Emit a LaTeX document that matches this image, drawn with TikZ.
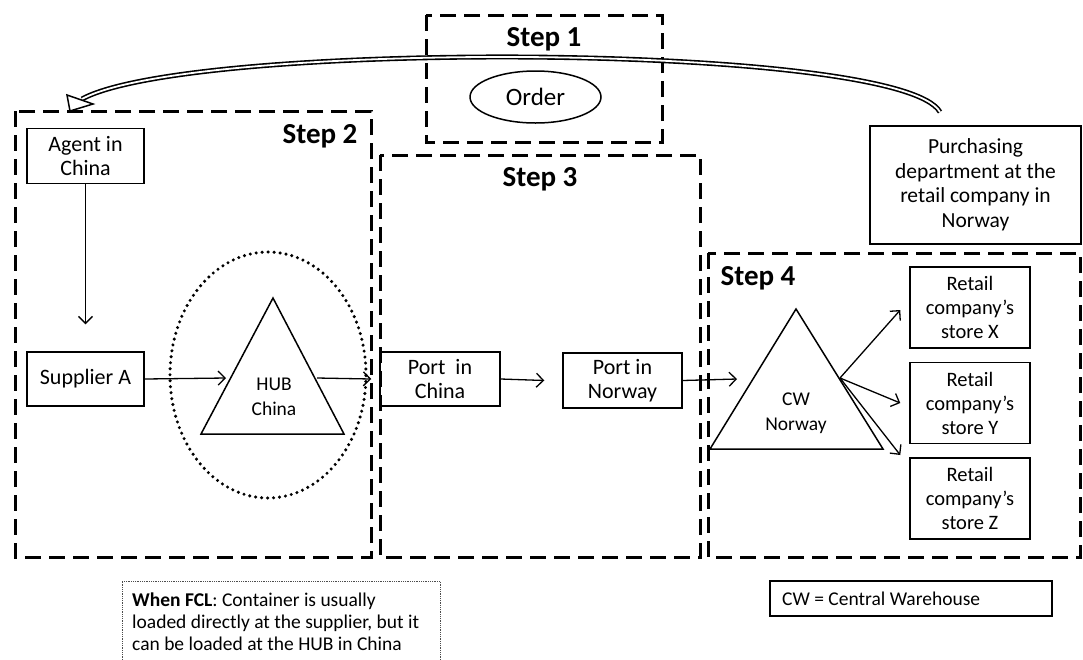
\documentclass[tikz,border=0pt]{standalone}
\usepackage{fontspec}
\setmainfont{Carlito}
\usetikzlibrary{arrows.meta,shapes.geometric}
\begin{document}
\begin{tikzpicture}[x=1pt,y=-1pt,
  stepframe/.style={draw, line width=3pt, dash pattern=on 16pt off 8pt},
  steplabel/.style={font=\fontsize{29}{32}\selectfont\bfseries, inner sep=0pt},
  box/.style={draw, line width=1.5pt, align=center, inner sep=0pt, font=\fontsize{22}{24}\selectfont},
  storebox/.style={box, minimum width=120pt, minimum height=81pt, font=\fontsize{20.5}{24}\selectfont},
  tri/.style={draw, line width=1.5pt},
  trilabel/.style={align=center, font=\fontsize{19.5}{25}\selectfont, inner sep=0pt},
  arr/.style={line width=1.3pt, -{Straight Barb[length=7pt,width=14pt,line width=1.3pt]}},
]
\useasboundingbox (0,0) rectangle (1083,659);

% step frames
\draw[stepframe] (426,15) rectangle (662,142);
\draw[stepframe] (15,111) rectangle (371,557);
\draw[stepframe] (380,155) rectangle (700,557);
\draw[stepframe] (708,253) rectangle (1080,557);
\node[steplabel] (s1) at (544,39) {Step 1};
\node[steplabel] (s2) at (320,136) {Step 2};
\node[steplabel] (s3) at (540,179) {Step 3};
\node[steplabel] (s4) at (758,278) {Step 4};

% step 1
\node[draw, ellipse, line width=1.5pt, minimum width=131pt, minimum height=52pt, inner sep=0pt, font=\fontsize{25}{28}\selectfont] (order) at (535.5,97) {Order};

% purchasing
\node[box, minimum width=211pt, minimum height=118pt, font=\fontsize{21.5}{24.5}\selectfont] (purch) at (975.5,185) {Purchasing\\department at the\\retail company in\\Norway};

% step 2
\node[box, minimum width=117pt, minimum height=55pt] (agent) at (85.5,156) {Agent in\\China};
\node[box, minimum width=117pt, minimum height=54pt] (supp) at (85.5,379) {Supplier A};
\draw[line width=3.4pt, dash pattern=on 0pt off 6pt, line cap=round] (268,375) ellipse [x radius=98pt, y radius=123pt];
\coordinate (hubA) at (273,298);
\coordinate (hubL) at (201,434);
\coordinate (hubR) at (344,434);
\draw[tri] (hubA) -- (hubL) -- (hubR) -- cycle;
\node[trilabel] (hub) at (274,397) {HUB\\China};
\coordinate (hubin) at (226,378);
\coordinate (hubout) at (317,378);

% step 3
\node[box, minimum width=120pt, minimum height=54pt] (pchina) at (440,379) {Port~ in\\China};
\node[box, minimum width=119pt, minimum height=55pt] (pnor) at (622.5,380.5) {Port in\\Norway};

% step 4
\coordinate (cwA) at (796,309);
\coordinate (cwL) at (710,449);
\coordinate (cwR) at (883,449);
\draw[tri] (cwA) -- (cwL) -- (cwR) -- cycle;
\node[trilabel] (cw) at (796,413) {CW\\Norway};
\coordinate (cwin) at (737,379);
\coordinate (cwout) at (840,378);
\node[storebox] (sx) at (970,307.5) {Retail\\company’s\\store X};
\node[storebox] (sy) at (970,403) {Retail\\company’s\\store Y};
\node[storebox] (sz) at (970,498.5) {Retail\\company’s\\store Z};

% connectors
\draw[arr] (agent.south) -- ([yshift=27pt]supp.north);
\draw[arr] (supp.east) -- (hubin);
\draw[arr] (hubout) -- ([xshift=-8pt]pchina.west);
\draw[arr] (pchina.east) -- ([xshift=-18pt]pnor.west);
\draw[arr] (pnor.east) -- (cwin);
\draw[arr] (cwout) -- ([xshift=-9pt,yshift=-2.5pt]sx.west);
\draw[arr] (cwout) -- ([xshift=-9pt]sy.west);
\draw[arr] (cwout) -- ([xshift=-9pt,yshift=43.5pt]sz.west);

% big curved arrow
\coordinate (tail) at (940,112);
\coordinate (headbase) at (82,99);
\coordinate (tip) at (70,111);
\coordinate (hc1) at (93,104);
\coordinate (hc2) at (67,95);
\draw[line width=1.6pt, double=white, double distance=1.8pt] (tail) .. controls (900,42) and (190,40) .. (headbase);
\draw[line width=1.5pt, fill=white, line join=miter] (tip) -- (hc1) -- (hc2) -- cycle;

% notes
\draw[densely dotted, line width=0.8pt, black!70] (122,660) -- (122,581) -- (440,581) -- (440,660);
\node[anchor=north west, align=left, inner sep=0pt, font=\fontsize{19.5}{22}\selectfont] (fcl) at (132,593) {\textbf{When FCL}: Container is usually\\loaded directly at the supplier, but it\\can be loaded at the HUB in China};
\node[draw, line width=1.5pt, minimum width=282pt, minimum height=35pt, inner sep=0pt] (legend) at (911,598.5) {};
\node[anchor=west, inner sep=0pt, font=\fontsize{19.5}{20}\selectfont] (legtext) at (782,598.5) {CW = Central Warehouse};
\end{tikzpicture}
\end{document}
